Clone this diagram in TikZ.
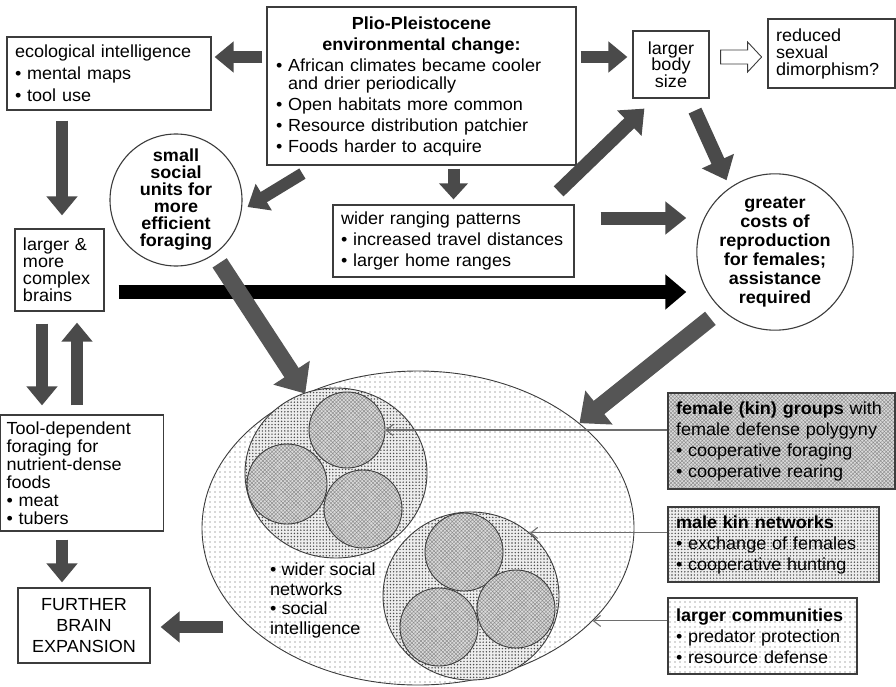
\documentclass[tikz,border=0pt]{standalone}
\usepackage{fontspec}
\setmainfont{Liberation Sans}[FakeStretch=1.03]
\usetikzlibrary{arrows.meta,patterns.meta,calc,shapes.geometric}
\newcommand\mysz[2]{\fontsize{#1}{#2}\selectfont}
\newcommand\itm{\textbullet\ }
\newcommand\ind{\phantom{\textbullet\ }}
\definecolor{arrgray}{HTML}{4A4A4A}
\definecolor{patgray}{HTML}{555555}
\definecolor{linegray}{HTML}{3C3C3C}
\definecolor{ptrgray}{HTML}{6E6E6E}
\tikzset{
  box/.style={draw=linegray, line width=1.2pt, fill=white, inner sep=0pt, align=left},
  cbox/.style={box, align=center},
  rnd/.style={circle, draw=linegray, line width=1.1pt, fill=white, inner sep=0pt, align=center},
  fat/.style={draw=arrgray, line width=12pt, -{Triangle[length=19pt,width=30pt]}},
  fatb/.style={draw=black, line width=14pt, -{Triangle[length=21pt,width=34pt]}},
  fatp/.style={draw=patgray, line width=17pt, -{Triangle[length=25pt,width=42pt]}},
  hollow/.style={draw=linegray, line width=0.9pt, fill=white, line join=miter},
  ptr/.style={draw=ptrgray, line width=1.1pt, -{Straight Barb[length=7pt,width=11pt]}},
  sparse/.style={preaction={fill=white}, pattern={Dots[distance=5pt,radius=0.6pt]}, pattern color=black!65},
  dense/.style={preaction={fill=gray!14}, pattern={Dots[distance=3.2pt,radius=0.8pt]}, pattern color=black!70},
  hatchy/.style={preaction={fill=gray!28}, pattern={Hatch[distance=2.6pt,angle=45,line width=0.45pt]}, pattern color=black!45},
  grp/.style={ellipse, draw=linegray, line width=0.9pt, inner sep=0pt},
  unit/.style={circle, draw=linegray, line width=0.9pt, inner sep=0pt, hatchy},
}
\begin{document}
\begin{tikzpicture}[x=1pt,y=-1pt]
\useasboundingbox (0,0) rectangle (896,687);

% ---------- social ellipses ----------
\node[grp, sparse, minimum width=432pt, minimum height=314pt] (soc) at (418,528) {};
\node[grp, dense, minimum width=182pt, minimum height=170pt] (g1) at (336,473) {};
\node[grp, dense, minimum width=176pt, minimum height=168pt] (g2) at (471,596) {};
\node[unit, minimum size=76pt] (c1) at (347,430) {};
\node[unit, minimum size=80pt] (c2) at (287,484) {};
\node[unit, minimum size=78pt] (c3) at (363,509) {};
\node[unit, minimum size=78pt] (d1) at (464,552) {};
\node[unit, minimum size=78pt] (d2) at (439,627) {};
\node[unit, minimum size=78pt] (d3) at (516,609) {};
\node[anchor=north west, align=left, inner sep=0pt, font=\mysz{17.5}{19.5}] (wst) at (270,563)
  {\itm wider social\\networks\\\itm social\\intelligence};

% ---------- boxes ----------
\node[box, minimum width=204pt, minimum height=73pt, text width=188pt, font=\mysz{17.5}{22}] (eco) at (109,73.5)
  {ecological intelligence\\\itm mental maps\\\itm tool use};
\node[box, minimum width=309pt, minimum height=158pt, text width=291pt, font=\mysz{17.5}{21}] (plio) at (421.5,86)
  {\makebox[\linewidth]{\bfseries Plio-Pleistocene}\\
   \makebox[\linewidth]{\bfseries environmental change:}\\
   \itm African climates became cooler\\[-3pt]
   \ind and drier periodically\\
   \itm Open habitats more common\\
   \itm Resource distribution patchier\\
   \itm Foods harder to acquire};
\node[cbox, minimum width=76pt, minimum height=67pt, font=\mysz{17.5}{16.5}] (body) at (671,64.5)
  {larger\\body\\size};
\node[box, minimum width=127pt, minimum height=69pt, text width=111pt, font=\mysz{17.5}{17}] (dimorph) at (831.5,53.5)
  {reduced\\sexual\\dimorphism?};
\node[rnd, minimum size=132pt, font=\bfseries\mysz{17.5}{17}] (small) at (176,200)
  {small\\social\\units for\\more\\efficient\\foraging};
\node[box, minimum width=241pt, minimum height=72pt, text width=225pt, font=\mysz{17.5}{21}] (wider) at (453.5,241)
  {wider ranging patterns\\\itm increased travel distances\\\itm larger home ranges};
\node[rnd, minimum size=136pt, font=\bfseries\mysz{17.5}{19}] (greater) at (775,252)
  {greater\\costs of\\reproduction\\for females;\\assistance\\required};
\node[box, minimum width=89pt, minimum height=82pt, text width=73pt, font=\mysz{17.5}{17}] (brains) at (59.5,270)
  {larger \&\\more\\complex\\brains};
\node[box, minimum width=163pt, minimum height=116pt, text width=151pt, font=\mysz{17.5}{18}] (tool) at (82,473)
  {Tool-dependent\\foraging for\\nutrient-dense\\foods\\\itm meat\\\itm tubers};
\node[cbox, minimum width=132pt, minimum height=75pt, font=\mysz{17.5}{21}] (further) at (84,625.5)
  {FURTHER\\BRAIN\\EXPANSION};
\node[box, hatchy, minimum width=227pt, minimum height=96pt, text width=211pt, font=\mysz{17.5}{21}] (female) at (781.5,441)
  {\textbf{female (kin) groups} with\\female defense polygyny\\\itm cooperative foraging\\\itm cooperative rearing};
\node[box, dense, minimum width=211pt, minimum height=75pt, text width=195pt, font=\mysz{17.5}{21}] (male) at (773.5,544.5)
  {\textbf{male kin networks}\\\itm exchange of females\\\itm cooperative hunting};
\node[box, sparse, minimum width=189pt, minimum height=76pt, text width=173pt, font=\mysz{17.5}{21}] (comm) at (762.5,636)
  {\textbf{larger communities}\\\itm predator protection\\\itm resource defense};

% ---------- helper coordinates ----------
\coordinate (ya) at (0,57);
\coordinate (yb) at (0,218);
\coordinate (yc) at (0,292);
\coordinate (xa) at (62,0);
\coordinate (xb) at (42,0);
\coordinate (xc) at (77,0);

% ---------- pointer lines ----------
\draw[ptr] (female.west |- c1.east) -- (c1.east);
\draw[ptr] (male.west |- g2.47) -- (g2.47);
\draw[ptr] (comm.west |- soc.-28) -- (soc.-28);

% ---------- block arrows ----------
\draw[fat, shorten <=4pt, shorten >=3pt] (plio.west |- ya) -- (eco.east |- ya);
\draw[fat, shorten <=4pt, shorten >=5pt] (plio.east |- ya) -- (body.west |- ya);
\draw[hollow] ($(body.east |- ya)+(11,-7)$) -- ++(27,0) -- ++(0,-8) -- ++(14,15) -- ++(-14,15) -- ++(0,-8) -- ++(-27,0) -- cycle;
\draw[fat, line width=14pt, -{Triangle[length=21pt,width=34pt]}, shorten >=8pt] ($(body.south)+(24,12)$) -- (greater.125);
\draw[fat, line width=14pt, -{Triangle[length=21pt,width=34pt]}] ($(wider.north east)+(-16,-13)$) -- ($(body.south west)+(12,10)$);
\draw[fat] ($(plio.south west)+(36,8)$) -- ($(small.east)+(5,7)$);
\draw[fat, -{Triangle[length=16pt,width=28pt]}, shorten <=3pt, shorten >=5pt] (plio.south -| wider.north) -- (wider.north);
\draw[fat, line width=13pt, -{Triangle[length=21pt,width=32pt]}, shorten <=26pt, shorten >=10pt] (wider.east |- yb) -- (greater.west |- yb);
\draw[fatb, shorten <=14pt, shorten >=10pt] (brains.east |- yc) -- (greater.west |- yc);
\draw[fat, shorten <=10pt, shorten >=13pt] (eco.south -| xa) -- (brains.north -| xa);
\draw[fat, shorten <=12pt, shorten >=9pt] (brains.south -| xb) -- (tool.north -| xb);
\draw[fat, shorten <=9pt, shorten >=11pt] (tool.north -| xc) -- (brains.south -| xc);
\draw[fat, shorten <=8pt, shorten >=5pt] (tool.south -| xa) -- (further.north -| xa);
\draw[fat] ($(further.east)+(72,1.5)$) -- ($(further.east)+(10,1.5)$);
\draw[fatp, shorten <=10pt] (small.-55) -- (soc.130);
\draw[fatp, shorten <=14pt] (greater.-133) -- (soc.33);
\end{tikzpicture}
\end{document}
